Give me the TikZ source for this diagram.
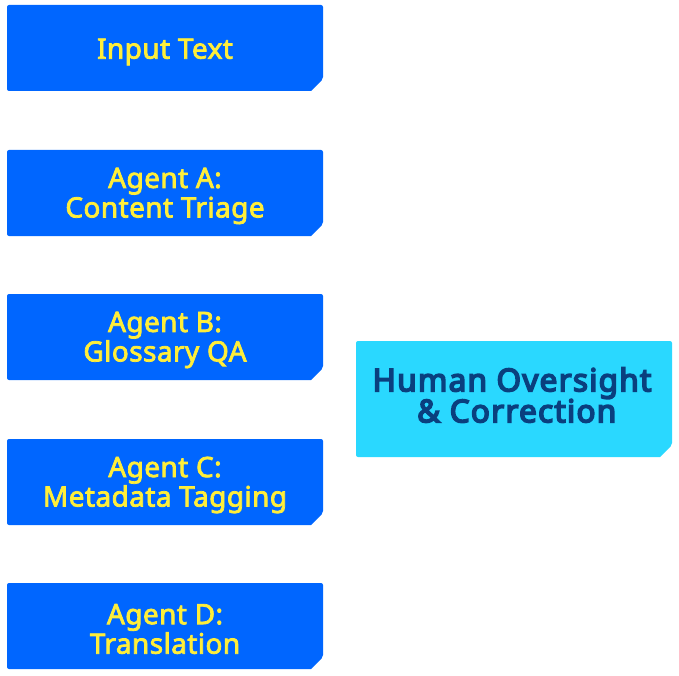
\documentclass[tikz,border=0pt]{standalone}
\usepackage{fontspec}
\setmainfont{Noto Sans}
\newfontfamily\agfont[LetterSpace=1.5]{Noto Sans}
\newfontfamily\hmfont[LetterSpace=4]{Noto Sans}
\newcommand\strk[2]{\special{pdf:literal direct 2 Tr #1 w}#2\special{pdf:literal direct 0 Tr 0.4 w}}
\usetikzlibrary{backgrounds}
\definecolor{agentblue}{HTML}{0066FF}
\definecolor{agenttext}{HTML}{FFEE3A}
\definecolor{humancyan}{HTML}{2AD8FF}
\definecolor{humantext}{HTML}{0A3F7E}
\newcommand\ag[1]{\strk{0.75}{#1}}
\newcommand\hm[1]{\strk{1.6}{#1}}
\tikzset{
  agentbox/.style={inner sep=0pt, align=center,
    text=agenttext, font=\agfont\fontsize{28}{29.5}\selectfont},
  humanbox/.style={inner sep=0pt, align=center,
    text=humantext, font=\hmfont\fontsize{31.5}{31}\selectfont},
}
% #1 node, #2 colour, #3 left, #4 top, #5 right, #6 bottom (offsets from node centre, image px)
\newcommand{\chamfbox}[6]{%
  \begin{scope}[on background layer]
  \fill[#2, rounded corners=2pt] ([shift={(#3,#6)}]#1.center) -- ([shift={(#3,#4)}]#1.center) -- ([shift={(#5,#4)}]#1.center) -- ([shift={(#5,#6-12)}]#1.center) [sharp corners] -- ([shift={(#5-12,#6)}]#1.center) [rounded corners=2pt] -- cycle;
  \end{scope}}
\begin{document}
\begin{tikzpicture}[x=1pt,y=-1pt]
\useasboundingbox (0,0) rectangle (679,676);
\node[agentbox] (input) at (165,52) {\ag{Input Text}};
\node[agentbox] (agenta) at (165,196) {\ag{Agent A:}\\\ag{Content Triage}};
\node[agentbox] (agentb) at (165,340) {\ag{Agent B:}\\\ag{Glossary QA}};
\node[agentbox] (agentc) at (165,485) {\ag{Agent C:}\\\ag{Metadata Tagging}};
\node[agentbox] (agentd) at (165,629) {\ag{Agent D:}\\\ag{Translation}};
\node[humanbox] (human) at (512,395) {\hm{Human Oversight}\\\hm{\ \& Correction}};
\chamfbox{input}{agentblue}{-158}{-47}{158}{39}
\chamfbox{agenta}{agentblue}{-158}{-46}{158}{40}
\chamfbox{agentb}{agentblue}{-158}{-46}{158}{40}
\chamfbox{agentc}{agentblue}{-158}{-46}{158}{40}
\chamfbox{agentd}{agentblue}{-158}{-46}{158}{40}
\chamfbox{human}{humancyan}{-156}{-54}{160}{62}
\end{tikzpicture}
\end{document}
